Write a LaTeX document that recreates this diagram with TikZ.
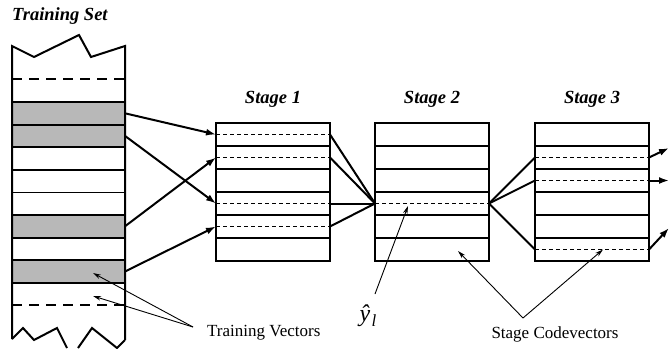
\documentclass[tikz,border=0pt]{standalone}
\usepackage{fontspec}
\setmainfont{Liberation Serif}
\usepackage{tikz}
\usetikzlibrary{arrows.meta,positioning}

\begin{document}
\begin{tikzpicture}[
    x=1pt, y=-1pt,
    box/.style={line width=2pt},
    rowline/.style={line width=1.8pt},
    codeline/.style={line width=1.1pt, dash pattern=on 4pt off 3pt},
    shade/.style={fill=black!28},
    link/.style={line width=2pt},
    feed/.style={line width=2pt, -{Latex[length=10pt,width=7pt]}},
    note/.style={line width=0.9pt, -{Stealth[length=8pt,width=4.5pt]}},
    title/.style={font=\fontsize{18.5}{20}\selectfont\bfseries\itshape, inner sep=0pt},
    caption/.style={font=\fontsize{17}{19}\selectfont, inner sep=0pt},
]
\useasboundingbox (0,0) rectangle (669,348);

% Training set column, cut off at both ends
\fill[shade] (12,102) rectangle (125,147.2);
\fill[shade] (12,215) rectangle (125,237.6);
\fill[shade] (12,260.2) rectangle (125,282.8);
\draw[box, line join=miter] (125,340) -- (125,46) -- (91,57) -- (79,35) -- (34,57) -- (12,46) -- (12,339);
\draw[box] (12,339) -- (23,328) -- (34,340) -- (57,328) -- (67,348);
\draw[box] (78,348) -- (92,328) -- (117,348) -- (125,340);
\foreach \y in {102,124.6,147.2,169.8,192.4,215,237.6,260.2,282.8}
    \draw[rowline] (12,\y) -- (125,\y);
\draw[box, dash pattern=on 10pt off 7pt] (12,79.4) -- (125,79.4);
\draw[box, dash pattern=on 10pt off 7pt] (12,305.4) -- (125,305.4);
\node[title, anchor=base west] (trainset) at (12,20) {Training Set};

% Stage codebooks
\foreach \s/\x in {1/216,2/375,3/535} {
    \draw[box] (\x,123) rectangle +(114,138);
    \foreach \y in {146,169,192,215,238}
        \draw[rowline] (\x,\y) -- +(114,0);
    \node[title, anchor=base] (stage\s) at (\x+57,103) {Stage \s};
}

% Selected codevectors (dashed)
\foreach \s/\x/\rows in {1/216/{1,2,4,5},2/375/{4},3/535/{2,3,6}} {
    \foreach \r in \rows {
        \coordinate (s\s r\r w) at (\x,111.5+23*\r);
        \coordinate (s\s r\r e) at (\x+114,111.5+23*\r);
        \draw[codeline] (s\s r\r w) -- (s\s r\r e);
    }
}

% Training vectors feeding stage 1
\coordinate (ta) at (125,113.3);
\coordinate (tb) at (125,135.9);
\coordinate (tc) at (125,226.3);
\coordinate (td) at (125,271.5);
\draw[feed] (ta) -- (s1r1w);
\draw[feed] (tb) -- (s1r4w);
\draw[feed] (tc) -- (s1r2w);
\draw[feed] (td) -- (s1r5w);

% Stage 1 -> stage 2 -> stage 3
\foreach \r in {1,2,4,5}
    \draw[link] (s1r\r e) -- (s2r4w);
\foreach \r in {2,3,6}
    \draw[link] (s2r4e) -- (s3r\r w);

% Outputs of stage 3
\coordinate (outa) at (669,148);
\coordinate (outb) at (669,180.5);
\coordinate (outc) at (669,228);
\draw[feed] (s3r2e) -- (outa);
\draw[feed] (s3r3e) -- (outb);
\draw[feed] (s3r6e) -- (outc);

% Annotations
\node[caption, anchor=west] (trainvec) at (207,333) {Training Vectors};
\coordinate (tvtail) at (193,327);
\coordinate (tvup) at (93,273);
\coordinate (tvdown) at (93,296);
\draw[note] (tvtail) -- (tvup);
\draw[note] (tvtail) -- (tvdown);

\node[inner sep=0pt, font=\fontsize{24}{26}\selectfont\itshape] (yhat) at (368,316)
    {ŷ\kern1.5pt\raisebox{-5pt}{\fontsize{17}{19}\selectfont l}};
\coordinate (yhtail) at (375,294);
\coordinate (yhhead) at (408,206);
\draw[note] (yhtail) -- (yhhead);

\node[caption] (codevec) at (555,334) {Stage Codevectors};
\coordinate (cvtail) at (523,318);
\coordinate (cvleft) at (458,251);
\coordinate (cvright) at (603,249.5);
\draw[note] (cvtail) -- (cvleft);
\draw[note] (cvtail) -- (cvright);

\end{tikzpicture}
\end{document}
